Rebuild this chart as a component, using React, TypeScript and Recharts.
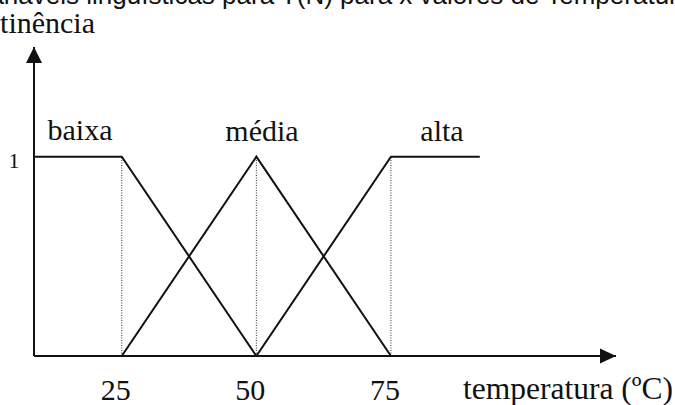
import * as React from "react"
import {
  LineChart,
  Line,
  XAxis,
  YAxis,
  ReferenceLine,
  ReferenceDot
} from "recharts"

// membership functions (x = temperature, y = degree)
const xMin = 8.7
const xMax = 116.8
const yMax = 1.55

const baixa = [
  { x: 8.7, y: 1 },
  { x: 25, y: 1 },
  { x: 50, y: 0 }
]
const media = [
  { x: 25, y: 0 },
  { x: 50, y: 1 },
  { x: 75, y: 0 }
]
const alta = [
  { x: 50, y: 0 },
  { x: 75, y: 1 },
  { x: 91.5, y: 1 }
]

const xTicks = [25, 50, 75]
const yTicks = [1]
const guideXs = [25, 50, 75]

const SERIF = "'Liberation Serif', 'Times New Roman', serif"
const SANS = "'Liberation Sans', Arial, sans-serif"
const INK = "#111"

// axis sits at y = 356, tick text baseline just above the bottom edge
const XTick = ({ x, payload }: any) => (
  <text x={x - 6} y={400} textAnchor="middle" fontFamily={SERIF} fontSize={30} fill={INK}>
    {payload.value}
  </text>
)

const YTick = ({ y, payload }: any) => (
  <text x={14} y={y + 11} textAnchor="middle" fontFamily={SERIF} fontSize={22} fill={INK}>
    {payload.value}
  </text>
)

const RightArrow = ({ cx, cy }: any) => (
  <path d={`M${cx},${cy} L${cx - 16},${cy - 7.5} L${cx - 16},${cy + 7.5} Z`} fill={INK} />
)

const UpArrow = ({ cx, cy }: any) => (
  <path d={`M${cx},${cy} L${cx - 8},${cy + 16} L${cx + 8},${cy + 16} Z`} fill={INK} />
)

export default function App() {
  return (
    <div style={{ position: "absolute", left: 0, top: 0, width: 675, height: 405, background: "#fff" }}>
      <LineChart
        width={675}
        height={405}
        margin={{ top: 47, right: 59, bottom: 0, left: 0 }}
      >
        <XAxis
          type="number"
          dataKey="x"
          domain={[xMin, xMax]}
          ticks={xTicks}
          allowDataOverflow
          height={49}
          tickLine={false}
          axisLine={{ stroke: INK, strokeWidth: 2 }}
          tick={<XTick />}
        />
        <YAxis
          type="number"
          dataKey="y"
          domain={[0, yMax]}
          ticks={yTicks}
          allowDataOverflow
          width={34}
          tickLine={false}
          axisLine={{ stroke: INK, strokeWidth: 2 }}
          tick={<YTick />}
        />

        {guideXs.map(g => (
          <ReferenceLine
            key={g}
            segment={[{ x: g, y: 0 }, { x: g, y: 1 }]}
            stroke="#333"
            strokeWidth={1}
            strokeDasharray="1 1.5"
          />
        ))}

        <Line data={baixa} dataKey="y" stroke={INK} strokeWidth={2} dot={false} isAnimationActive={false} />
        <Line data={media} dataKey="y" stroke={INK} strokeWidth={2} dot={false} isAnimationActive={false} />
        <Line data={alta} dataKey="y" stroke={INK} strokeWidth={2} dot={false} isAnimationActive={false} />

        <ReferenceDot x={xMax} y={0} r={0} ifOverflow="visible" shape={<RightArrow />} />
        <ReferenceDot x={xMin} y={yMax} r={0} ifOverflow="visible" shape={<UpArrow />} />
      </LineChart>

      <svg
        width={675}
        height={405}
        style={{ position: "absolute", left: 0, top: 0, pointerEvents: "none" }}
      >
        <text x={-26} y={4} fontFamily={SANS} fontSize={26} fill={INK}>
          Variáveis linguísticas para T(N) para x valores de Temperatura
        </text>
        <text x={95} y={33} textAnchor="end" fontFamily={SERIF} fontSize={30} fill={INK}>
          pertinência
        </text>
        <text x={80} y={140} textAnchor="middle" fontFamily={SERIF} fontSize={30} fill={INK}>baixa</text>
        <text x={262} y={141} textAnchor="middle" fontFamily={SERIF} fontSize={30} fill={INK}>média</text>
        <text x={442} y={141} textAnchor="middle" fontFamily={SERIF} fontSize={30} fill={INK}>alta</text>
        <text x={463} y={399} fontFamily={SERIF} fontSize={31.5} fill={INK}>
          temperatura (ºC)
        </text>
      </svg>
    </div>
  )
}
